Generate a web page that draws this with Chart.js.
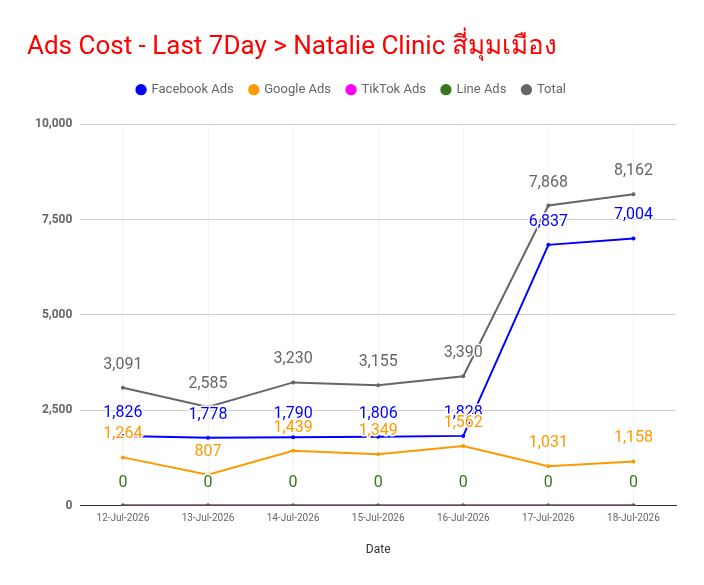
<!DOCTYPE html>
<html>
<head>
<meta charset="utf-8">
<script src="https://cdn.jsdelivr.net/npm/chart.js@4.4.1/dist/chart.umd.min.js"></script>
<style>
  html, body { margin: 0; padding: 0; background: #fff; }
  #wrap { width: 704px; height: 585px; position: relative; }
</style>
</head>
<body>
<div id="wrap"><canvas id="adsChart"></canvas></div>
<script>
// Chart data
const dates = ['12-Jul-2026', '13-Jul-2026', '14-Jul-2026', '15-Jul-2026', '16-Jul-2026', '17-Jul-2026', '18-Jul-2026'];
const facebookAds = [1826, 1778, 1790, 1806, 1828, 6837, 7004];
const googleAds = [1264, 807, 1439, 1349, 1562, 1031, 1158];
const tiktokAds = [0, 0, 0, 0, 0, 0, 0];
const lineAds = [0, 0, 0, 0, 0, 0, 0];
const totalCost = [3091, 2585, 3230, 3155, 3390, 7868, 8162];
const yTicks = [0, 2500, 5000, 7500, 10000];

const fmt = v => v.toLocaleString('en-US');

// draws the value above each point, like the original sheet chart
const pointLabels = {
    id: 'pointLabels',
    afterDatasetsDraw(chart) {
        const ctx = chart.ctx;
        ctx.save();
        ctx.font = '16px Roboto, "Noto Sans", sans-serif';
        ctx.textAlign = 'center';
        ctx.textBaseline = 'middle';
        ctx.lineJoin = 'round';
        chart.data.datasets.forEach((ds, i) => {
            const meta = chart.getDatasetMeta(i);
            if (meta.hidden) return;
            meta.data.forEach((pt, j) => {
                const txt = fmt(ds.data[j]);
                ctx.lineWidth = 3;
                ctx.strokeStyle = '#ffffff';
                ctx.strokeText(txt, pt.x, pt.y - 23);
                ctx.fillStyle = ds.borderColor;
                ctx.fillText(txt, pt.x, pt.y - 23);
            });
        });
        ctx.restore();
    }
};

// extra gap under the legend
const legendGap = {
    id: 'legendGap',
    beforeInit(chart) {
        const fit = chart.legend.fit;
        chart.legend.fit = function() {
            fit.call(this);
            this.height += 18;
        };
    }
};

function series(label, data, color, order) {
    return {
        label: label,
        data: data,
        borderColor: color,
        backgroundColor: color,
        borderWidth: 2,
        pointRadius: 2,
        pointBorderWidth: 0,
        pointHoverRadius: 3,
        tension: 0,
        order: order
    };
}

new Chart(document.getElementById('adsChart'), {
    type: 'line',
    data: {
        labels: dates,
        datasets: [
            series('Facebook Ads', facebookAds, '#0000ff', 1),
            series('Google Ads', googleAds, '#ff9900', 1),
            series('TikTok Ads', tiktokAds, '#ff00ff', 2),
            series('Line Ads', lineAds, '#38761d', 0),
            series('Total', totalCost, '#666666', 1)
        ]
    },
    options: {
        responsive: true,
        maintainAspectRatio: false,
        animation: false,
        layout: { padding: { left: 27, right: 28, top: 32, bottom: 24 } },
        plugins: {
            title: {
                display: true,
                text: 'Ads Cost - Last 7Day > Natalie Clinic สี่มุมเมือง',
                align: 'start',
                color: '#ff0000',
                font: { family: 'Roboto, "Noto Sans", sans-serif', size: 26, weight: 'normal' },
                padding: { top: 0, bottom: 4 }
            },
            legend: {
                labels: {
                    usePointStyle: true,
                    pointStyle: 'circle',
                    boxWidth: 8,
                    boxHeight: 8,
                    padding: 16,
                    color: '#666666',
                    font: { family: 'Roboto, sans-serif', size: 13 },
                    sort: (a, b) => a.datasetIndex - b.datasetIndex
                }
            },
            tooltip: { enabled: false }
        },
        scales: {
            x: {
                offset: true,
                grid: { color: '#f3f3f3', drawTicks: false },
                border: { color: '#333333' },
                ticks: {
                    color: '#666666',
                    padding: 7,
                    maxRotation: 0,
                    font: { family: 'Roboto, sans-serif', size: 10 }
                },
                title: {
                    display: true,
                    text: 'Date',
                    color: '#333333',
                    padding: { top: 11 },
                    font: { family: 'Roboto, sans-serif', size: 12 }
                }
            },
            y: {
                min: 0,
                max: 10000,
                afterBuildTicks: axis => { axis.ticks = yTicks.map(v => ({ value: v })); },
                grid: {
                    color: ctx => ctx.tick && ctx.tick.value === 0 ? '#333333' : '#cccccc',
                    drawTicks: false
                },
                border: { display: false },
                ticks: {
                    color: '#666666',
                    padding: 8,
                    font: { family: 'Roboto, sans-serif', size: 12, weight: 'bold' },
                    callback: v => fmt(v)
                }
            }
        }
    },
    plugins: [pointLabels, legendGap]
});
</script>
</body>
</html>
